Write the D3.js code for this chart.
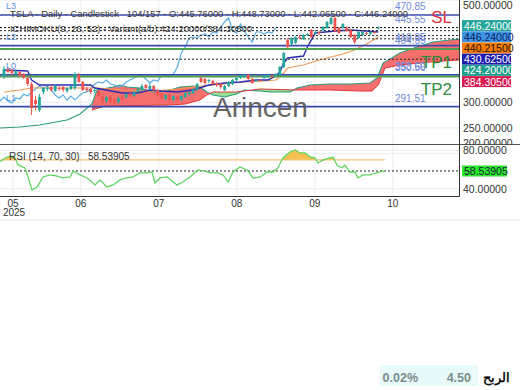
<!DOCTYPE html>
<html>
<head>
<meta charset="utf-8">
<script src="https://cdn.jsdelivr.net/npm/d3@7"></script>
<style>
  body { margin: 0; background: #fff; }
  svg { display: block; font-family: "Liberation Sans", Arial, sans-serif; }
</style>
</head>
<body>
<svg id="chart" width="520" height="390"></svg>
<script>
// ---- data ----
const opens = [349.5,365.2,363.2,355.4,359.3,355.4,347.6,335.8,304.5,284.9,
  320.2,326.0,329.9,322.1,328.0,329.9,322.1,326.0,328.0,353.4,
  339.7,326.0,326.0,322.1,320.2,312.3,302.5,310.4,306.5,300.6,
  310.4,310.4,316.2,312.3,320.2,324.1,333.9,326.0,331.9,324.1,
  316.2,306.5,314.3,304.5,310.4,304.5,310.4,316.2,318.2,324.1,
  347.6,345.6,341.7,341.7,337.8,335.8,324.1,331.9,335.8,343.6,
  347.6,349.5,353.4,345.6,341.7,343.6,347.6,349.5,351.5,351.5,
  353.4,369.1,421.9,414.1,416.1,427.8,423.9,431.7,441.5,435.6,
  437.6,441.5,445.4,453.2,465.0,445.4,445.4,445.4,441.5,431.7,
  425.8,431.7,435.6,433.7,437.6,445.76];
const highs = [371.0,369.1,365.2,363.2,361.2,357.3,349.5,339.7,312.3,316.2,
  329.9,331.9,333.9,333.9,331.9,331.9,329.9,333.9,359.3,357.3,
  341.7,329.9,328.0,328.0,324.1,314.3,312.3,314.3,308.4,310.4,
  314.3,318.2,320.2,322.1,328.0,335.8,335.8,337.8,333.9,326.0,
  318.2,316.2,316.2,314.3,312.3,314.3,320.2,322.1,328.0,337.8,
  349.5,347.6,345.6,343.6,339.7,337.8,333.9,341.7,345.6,349.5,
  353.4,355.4,355.4,347.6,345.6,345.6,353.4,355.4,353.4,357.3,
  371.0,398.4,425.8,427.8,429.7,431.7,433.7,435.6,443.5,441.5,
  439.5,449.3,459.1,466.9,470.9,447.4,455.2,449.3,443.5,433.7,
  439.5,439.5,437.6,439.5,439.5,448.73];
const lows = [345.6,357.3,353.4,353.4,349.5,345.6,331.9,275.1,284.9,281.0,
  316.2,322.1,320.2,320.2,322.1,320.2,318.2,324.1,324.1,337.8,
  322.1,320.2,316.2,318.2,310.4,296.7,298.6,298.6,292.8,296.7,
  302.5,306.5,308.4,310.4,316.2,322.1,324.1,324.1,320.2,310.4,
  304.5,304.5,298.6,302.5,300.6,302.5,308.4,312.3,316.2,322.1,
  337.8,333.9,337.8,333.9,329.9,326.0,322.1,329.9,333.9,341.7,
  345.6,347.6,343.6,335.8,339.7,339.7,345.6,347.6,347.6,349.5,
  351.5,367.1,406.3,412.1,414.1,423.9,421.9,429.7,425.8,433.7,
  431.7,439.5,443.5,451.3,437.6,433.7,443.5,437.6,425.8,414.1,
  423.9,429.7,431.7,431.7,433.7,442.065];
const closes = [365.2,359.3,357.3,361.2,351.5,347.6,335.8,288.8,296.7,310.4,
  328.0,328.0,324.1,331.9,326.0,324.1,328.0,331.9,355.4,339.7,
  324.1,324.1,320.2,324.1,312.3,302.5,310.4,302.5,298.6,308.4,
  306.5,316.2,312.3,320.2,326.0,331.9,328.0,331.9,324.1,314.3,
  308.4,314.3,304.5,312.3,304.5,312.3,318.2,320.2,326.0,335.8,
  339.7,337.8,343.6,335.8,333.9,329.9,331.9,339.7,343.6,347.6,
  351.5,353.4,345.6,337.8,343.6,341.7,351.5,353.4,349.5,355.4,
  369.1,396.5,408.2,425.8,427.8,425.8,431.7,433.7,427.8,437.6,
  435.6,447.4,457.2,465.0,439.5,435.6,453.2,439.5,427.8,418.0,
  437.6,437.6,433.7,437.6,435.6,446.24];

// ichimoku lines as [bar, price]
const tenkan = [[0,363.2],[6,361.2],[7,343.6],[9,333.9],[22,333.9],[23,328.0],[26,324.1],[30,318.2],[34,318.2],[37,324.1],[40,322.1],[44,320.2],[48,324.1],[52,333.9],[56,337.8],[60,339.7],[64,343.6],[67,343.6],[69,351.5],[70,359.3],[71,376.9],[72,386.7],[76,390.6],[77,408.2],[79,435.6],[84,439.5],[88,441.5],[92,439.5],[95,437.6]];
const kijun = [[0,320.2],[4,324.1],[7,328.0],[24,328.0],[30,324.1],[38,322.1],[44,326.0],[50,331.9],[56,335.8],[60,339.7],[66,341.7],[69,343.6],[71,357.3],[72,367.1],[76,373.0],[80,382.8],[86,394.5],[89,402.3],[92,414.1],[95,427.8]];
const spanA = [[-1.2,249.7],[4,251.7],[9,255.6],[16,265.3],[19.3,277.1],[22.3,296.7],[23.6,324.1],[27.7,329.9],[29.4,333.9],[31.2,329.9],[34.5,328.0],[37.8,320.2],[41.4,322.1],[44.7,329.9],[48,331.9],[49.7,329.9],[51.5,320.2],[53,314.3],[56,310.4],[59,316.2],[61,324.1],[65,322.1],[67.5,320.2],[72.6,320.2],[74.4,328.0],[77.7,333.9],[82.7,335.8],[87.8,335.8],[92.9,337.8],[94.7,347.6],[96.2,376.9],[100.5,396.5],[104.8,408.2],[108.9,418.0],[113.2,422.0],[115.5,423.5],[121,424.2]];
const spanB = [[22.3,284.9],[25.6,292.8],[42.1,294.7],[46,296.7],[49.7,304.5],[51.5,314.3],[53,320.2],[59,320.2],[61,322.1],[65,326.0],[74.4,324.1],[82.7,324.1],[90.4,322.1],[93.4,322.1],[95,333.9],[96.7,367.1],[100.5,373.0],[108.1,378.9],[115.5,382.8],[121,384.305]];
const chikouShift = 26;

// RSI as [bar, value]
const rsi = [[-1.0,68.2],[0.3,72.1],[1.5,74.2],[2.8,72.1],[3.6,64.8],[5.3,61.7],[6.1,52.3],[7.1,38.8],[8.4,41.9],[9.9,52.3],[11.7,54.4],[13.5,53.3],[15,51.3],[16.8,52.3],[17.5,58.5],[19.3,54.4],[21.1,51.3],[23.1,44.0],[24.4,49.2],[26.1,41.9],[27.7,44.0],[29.4,49.2],[31.2,51.3],[32.7,52.3],[34.5,56.5],[36.3,56.5],[37.6,57.5],[38.3,46.0],[39.6,51.3],[41.4,52.3],[43.9,44.0],[45.4,47.1],[47.2,52.3],[49.2,59.6],[51,58.5],[52.3,56.5],[54.3,56.5],[55.6,54.4],[56.9,47.1],[58.1,57.5],[59.9,62.7],[61.7,59.6],[63.2,51.3],[65,52.3],[66.8,57.5],[68.3,57.5],[69.5,61.7],[70.8,72.1],[72.6,78.3],[73.9,80.4],[75.1,77.3],[76.4,77.3],[77.7,73.1],[78.9,72.1],[79.7,66.9],[81,70],[82.7,72.1],[83.5,73.1],[84.5,64.8],[85.8,61.7],[86.5,64.8],[87.8,57.5],[89.1,57.5],[89.8,51.3],[91.1,54.4],[92.9,54.4],[93.7,55.4],[95.4,57.5],[96.7,58.53905]];
const rsiLevel = 70;

// horizontal levels drawn on the chart
const levelPrices = [470.85, 445.55, 410.85, 404.35, 353.60, 350.56, 291.51];
const levelKinds = ["blue","none","blue","green","blue","green","blue"];
const levelTags = ["L3","","L2","","L0","","L1"];
const targetNames = ["SL","TP1","TP2"];
const targetLevels = [470.85, 353.60, 291.51];

// last values on the price scale
const lastValues = [446.24, 446.24, 440.215, 430.625, 424.2, 384.305];
const rsiLast = 58.53905;

const priceTicks = [500, 300, 250, 200];
const rsiTicks = [80, 40];
const monthLabels = ["05","06","07","08","09","10"];
const monthBars = [2.3, 19.5, 39.3, 59.1, 78.9, 98.7];

const titleText = "TSLA - Daily - Candlestick\u00a0\u00a0\u00a0104/157 - O:445.76000 - H:448.73000 - L:442.06500 - C:446.24000";
const ichiText = "ICHIMOKU(9, 26, 52) - Variant(a/b):424.20000/384.30500";
const rsiText = "RSI (14, 70, 30)\u00a0\u00a0\u00a0" + rsiLast.toFixed(5);

// ---- layout ----
const plotR = 459.5, paneSplit = 144.5, rsiBottom = 196.5;
const x = d3.scaleLinear().domain([0, 95]).range([4, 378.3]);
const y = d3.scaleLinear().domain([218.4, 500.2]).range([144, 0]);
const yR = d3.scaleLinear().domain([32.5, 86.1]).range([196, 144.5]);

const up = "#26a69a", down = "#ef5350";
const boxFill = ["#26a69a","#3d95e6","#f57c00","#1c1cb0","#1f9e8c","#d81b50"];
const boxInk = ["#fff","#0d1b5c","#2a1400","#fff","#fff","#fff"];

const svg = d3.select("#chart");
svg.append("rect").attr("width", 520).attr("height", 390).attr("fill", "#fff");

const defs = svg.append("defs");
defs.append("clipPath").attr("id", "pricePane").append("rect")
  .attr("x", 0).attr("y", 0).attr("width", plotR).attr("height", paneSplit);
defs.append("clipPath").attr("id", "rsiPane").append("rect")
  .attr("x", 0).attr("y", paneSplit).attr("width", plotR).attr("height", rsiBottom - paneSplit);
defs.append("clipPath").attr("id", "priceAxis").append("rect")
  .attr("x", plotR).attr("y", 0).attr("width", 60).attr("height", paneSplit);

// grid
const grid = svg.append("g").attr("stroke", "#ececec").attr("stroke-width", 1);
grid.selectAll("line.v").data(monthBars).join("line")
  .attr("x1", d => x(d)).attr("x2", d => x(d)).attr("y1", 0).attr("y2", rsiBottom);
grid.selectAll("line.p").data(priceTicks).join("line")
  .attr("x1", 0).attr("x2", plotR).attr("y1", d => y(d)).attr("y2", d => y(d));
grid.selectAll("line.r").data(rsiTicks).join("line")
  .attr("x1", 0).attr("x2", plotR).attr("y1", d => yR(d)).attr("y2", d => yR(d));

// ---- price pane ----
const pane = svg.append("g").attr("clip-path", "url(#pricePane)");

const line = d3.line().x(d => x(d[0])).y(d => y(d[1]));
const below = d3.area().x(d => x(d[0])).y0(paneSplit).y1(d => y(d[1]));
const above = d3.area().x(d => x(d[0])).y0(0).y1(d => y(d[1]));

defs.append("clipPath").attr("id", "aboveB").append("path").attr("d", above(spanB));
defs.append("clipPath").attr("id", "aboveA").append("path").attr("d", above(spanA));

// cloud: red where A over B, green where B over A
pane.append("g").attr("clip-path", "url(#aboveB)")
  .append("path").attr("d", below(spanA)).attr("fill", "#f44f4f").attr("opacity", 0.82);
pane.append("g").attr("clip-path", "url(#aboveA)")
  .append("path").attr("d", below(spanB)).attr("fill", "#72d672").attr("opacity", 0.75);

pane.append("path").attr("d", line(spanA)).attr("fill", "none").attr("stroke", "#2a9d7f").attr("stroke-width", 1.1);
pane.append("path").attr("d", line(spanB)).attr("fill", "none").attr("stroke", "#e0353d").attr("stroke-width", 1);

const chikou = closes.map((c, i) => [i - chikouShift, c]);
pane.append("path").attr("d", line(chikou)).attr("fill", "none").attr("stroke", "#5aaee6").attr("stroke-width", 1.2);
pane.append("path").attr("d", line(kijun)).attr("fill", "none").attr("stroke", "#f39a55").attr("stroke-width", 1.2);
pane.append("path").attr("d", line(tenkan)).attr("fill", "none").attr("stroke", "#2b2bb0").attr("stroke-width", 1.4);

// level lines
const levels = levelPrices.map((p, i) => ({p, kind: levelKinds[i], tag: levelTags[i]}));
pane.selectAll("line.lvl").data(levels.filter(d => d.kind !== "none")).join("line")
  .attr("x1", 0).attr("x2", plotR)
  .attr("y1", d => y(d.p)).attr("y2", d => y(d.p))
  .attr("stroke", d => d.kind === "green" ? "#4f9f52" : "#3949ab")
  .attr("stroke-width", d => d.kind === "green" ? 2 : 1.6);

// dotted last-value lines
pane.selectAll("line.last").data(lastValues).join("line")
  .attr("x1", 0).attr("x2", plotR)
  .attr("y1", d => y(d)).attr("y2", d => y(d))
  .attr("stroke", "#222").attr("stroke-width", 1).attr("stroke-dasharray", "2,2");

// candles
const candles = opens.map((o, i) => ({i, o, h: highs[i], l: lows[i], c: closes[i]}));
pane.selectAll("line.wick").data(candles).join("line")
  .attr("x1", d => x(d.i)).attr("x2", d => x(d.i))
  .attr("y1", d => y(d.h)).attr("y2", d => y(d.l))
  .attr("stroke", d => d.c >= d.o ? up : down).attr("stroke-width", 1);
pane.selectAll("rect.body").data(candles).join("rect")
  .attr("x", d => x(d.i) - 1.4).attr("width", 2.8)
  .attr("y", d => y(Math.max(d.o, d.c)))
  .attr("height", d => Math.max(1, Math.abs(y(d.o) - y(d.c))))
  .attr("fill", d => d.c >= d.o ? up : down);

// level labels
pane.selectAll("text.lvl").data(levels).join("text")
  .attr("x", 395).attr("y", d => y(d.p) - 5)
  .attr("font-size", 10).attr("fill", "#7089d6")
  .text(d => d.p.toFixed(2));
pane.selectAll("text.tag").data(levels.filter(d => d.tag)).join("text")
  .attr("x", 6).attr("y", d => y(d.p) - 6)
  .attr("font-size", 9).attr("fill", "#5b8fe0")
  .text(d => d.tag);

const tagOffset = [8, -7, -12];
pane.selectAll("text.target").data(targetNames).join("text")
  .attr("x", 452).attr("text-anchor", "end")
  .attr("y", (d, i) => y(targetLevels[i]) + tagOffset[i])
  .attr("font-size", 17)
  .attr("fill", d => d === "SL" ? "#e0303a" : "#2e8b3a")
  .text(d => d);

// watermark
pane.append("text").attr("x", 213).attr("y", 117)
  .attr("font-size", 28).attr("fill", "#555").attr("opacity", 0.9)
  .text("Arincen");

// title texts (squeezed like the narrow source font)
pane.append("text").attr("x", 10).attr("y", 17).attr("font-size", 9.5).attr("fill", "#333")
  .attr("textLength", 398).attr("lengthAdjust", "spacingAndGlyphs").text(titleText);
pane.append("text").attr("x", 10).attr("y", 32).attr("font-size", 9.5).attr("fill", "#333")
  .attr("textLength", 242).attr("lengthAdjust", "spacingAndGlyphs").text(ichiText);

// ---- RSI pane ----
const rpane = svg.append("g").attr("clip-path", "url(#rsiPane)");
const rline = d3.line().x(d => x(d[0])).y(d => yR(d[1]));
const rArea = d3.area().x(d => x(d[0])).y0(yR(rsiLevel)).y1(d => yR(d[1]));
defs.append("clipPath").attr("id", "overLevel").append("rect")
  .attr("x", 0).attr("y", paneSplit).attr("width", plotR).attr("height", yR(rsiLevel) - paneSplit);
rpane.append("g").attr("clip-path", "url(#overLevel)")
  .append("path").attr("d", rArea(rsi)).attr("fill", "#f7b733").attr("opacity", 0.85);
rpane.append("line")
  .attr("x1", x(d3.min(rsi, d => d[0]))).attr("x2", x(d3.max(rsi, d => d[0])))
  .attr("y1", yR(rsiLevel)).attr("y2", yR(rsiLevel))
  .attr("stroke", "#f9c27a").attr("stroke-width", 1.3);
rpane.append("line").attr("x1", 0).attr("x2", plotR)
  .attr("y1", yR(rsiLast)).attr("y2", yR(rsiLast))
  .attr("stroke", "#222").attr("stroke-dasharray", "2,2");
rpane.append("path").attr("d", rline(rsi)).attr("fill", "none").attr("stroke", "#5fd65f").attr("stroke-width", 1.3);
rpane.append("text").attr("x", 9).attr("y", 160).attr("font-size", 10).attr("fill", "#333").text(rsiText);

// ---- frame ----
svg.append("line").attr("x1", 0).attr("x2", 520).attr("y1", paneSplit).attr("y2", paneSplit).attr("stroke", "#555");
svg.append("line").attr("x1", plotR).attr("x2", plotR).attr("y1", 0).attr("y2", rsiBottom).attr("stroke", "#333");
svg.append("line").attr("x1", 0).attr("x2", plotR).attr("y1", rsiBottom).attr("y2", rsiBottom).attr("stroke", "#333");

// ---- right axis ----
const axisP = svg.append("g").attr("clip-path", "url(#priceAxis)")
  .attr("font-size", 10.5).attr("fill", "#333");
axisP.selectAll("text").data(priceTicks).join("text")
  .attr("x", 463).attr("dominant-baseline", "central")
  .attr("y", d => Math.min(Math.max(y(d), 5), 143))
  .text(d => d.toFixed(5));

let prev = -Infinity;
const boxY = lastValues.map(v => { const c = Math.max(y(v) - 2, prev + 11.2); prev = c; return c; });
const boxes = svg.append("g");
boxes.selectAll("rect").data(lastValues).join("rect")
  .attr("x", 462).attr("width", 49).attr("y", (d, i) => boxY[i] - 5.5).attr("height", 11)
  .attr("fill", (d, i) => boxFill[i]);
boxes.selectAll("text").data(lastValues).join("text")
  .attr("x", 464).attr("y", (d, i) => boxY[i]).attr("dominant-baseline", "central")
  .attr("font-size", 10.5).attr("fill", (d, i) => boxInk[i])
  .text(d => d.toFixed(5));

svg.append("g").attr("font-size", 10.5).attr("fill", "#333")
  .selectAll("text").data(rsiTicks).join("text")
  .attr("x", 463).attr("y", d => yR(d)).attr("dominant-baseline", "central")
  .text(d => d.toFixed(5));
svg.append("rect").attr("x", 462).attr("width", 45).attr("y", yR(rsiLast) - 5.5).attr("height", 11).attr("fill", "#2be82b");
svg.append("text").attr("x", 464).attr("y", yR(rsiLast)).attr("dominant-baseline", "central")
  .attr("font-size", 10.5).attr("fill", "#123").text(rsiLast.toFixed(5));

// ---- time axis ----
const xa = svg.append("g").attr("font-size", 10).attr("fill", "#333").attr("text-anchor", "middle");
xa.selectAll("text").data(monthLabels).join("text")
  .attr("x", (d, i) => x(monthBars[i])).attr("y", 207).text(d => d);
xa.append("text").attr("x", 14).attr("y", 216).text("2025");
svg.append("rect").attr("x", 0).attr("y", 219).attr("width", 520).attr("height", 2).attr("fill", "#f0f0f0");

// ---- bottom status ----
svg.append("rect").attr("x", 380).attr("y", 365).attr("width", 98).attr("height", 21).attr("fill", "#e8fafa");
const st = svg.append("g").attr("font-size", 12.5).attr("font-weight", "bold").attr("text-anchor", "end");
st.append("text").attr("x", 418).attr("y", 382).attr("fill", "#7a8c8c").text("0.02%");
st.append("text").attr("x", 471).attr("y", 382).attr("fill", "#7a8c8c").text("4.50");
st.append("text").attr("x", 510).attr("y", 382).attr("fill", "#111").attr("direction", "rtl").attr("text-anchor", "start").text("الربح");
</script>
</body>
</html>
